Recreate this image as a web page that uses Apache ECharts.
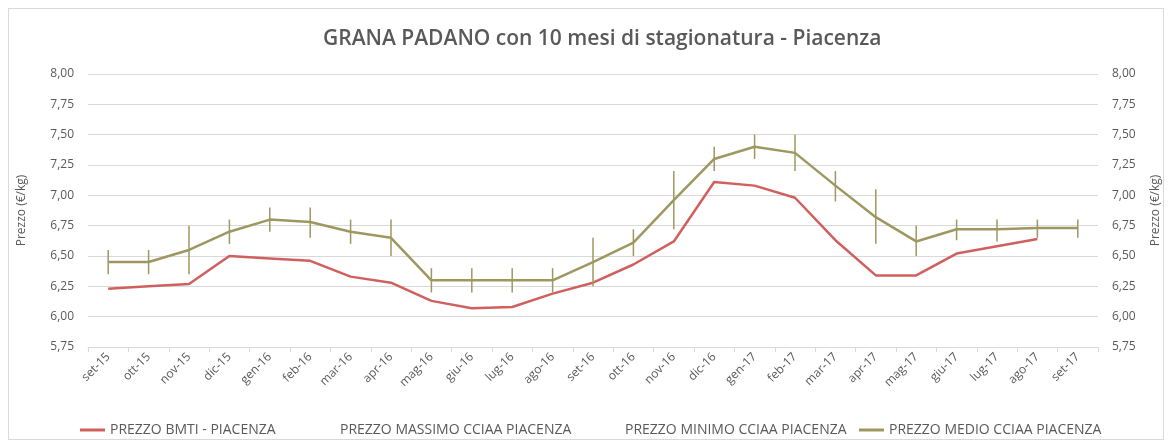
<!DOCTYPE html>
<html>
<head>
<meta charset="utf-8">
<script src="https://cdn.jsdelivr.net/npm/echarts@6/dist/echarts.min.js"></script>
<style>
html, body { margin: 0; padding: 0; background: #fff; }
#frame { position: absolute; left: 8px; top: 8px; width: 1156px; height: 432px; border: 1px solid #d9d9d9; box-sizing: border-box; }
#chart { position: absolute; left: 0; top: 0; width: 1172px; height: 445px; }
</style>
</head>
<body>
<div id="frame"></div>
<div id="chart"></div>
<script>
// mesi
const categories = ['set-15', 'ott-15', 'nov-15', 'dic-15', 'gen-16', 'feb-16', 'mar-16', 'apr-16',
    'mag-16', 'giu-16', 'lug-16', 'ago-16', 'set-16', 'ott-16', 'nov-16', 'dic-16', 'gen-17',
    'feb-17', 'mar-17', 'apr-17', 'mag-17', 'giu-17', 'lug-17', 'ago-17', 'set-17'];

// prezzi (€/kg)
const bmti = [6.23, 6.25, 6.27, 6.50, 6.48, 6.46, 6.33, 6.28, 6.13, 6.07, 6.08, 6.19, 6.28,
    6.43, 6.62, 7.11, 7.08, 6.98, 6.63, 6.34, 6.34, 6.52, 6.58, 6.64, null];
const massimo = [6.55, 6.55, 6.75, 6.80, 6.90, 6.90, 6.80, 6.80, 6.40, 6.40, 6.40, 6.40, 6.65,
    6.72, 7.20, 7.40, 7.50, 7.50, 7.20, 7.05, 6.75, 6.80, 6.80, 6.80, 6.80];
const minimo = [6.35, 6.35, 6.35, 6.60, 6.70, 6.65, 6.60, 6.50, 6.20, 6.20, 6.20, 6.20, 6.25,
    6.50, 6.72, 7.20, 7.30, 7.20, 6.95, 6.60, 6.50, 6.63, 6.62, 6.65, 6.65];
const medio = [6.45, 6.45, 6.55, 6.70, 6.80, 6.78, 6.70, 6.65, 6.30, 6.30, 6.30, 6.30, 6.45,
    6.61, 6.96, 7.30, 7.40, 7.35, 7.08, 6.82, 6.62, 6.72, 6.72, 6.73, 6.73];

const seriesNames = ['PREZZO BMTI - PIACENZA', 'PREZZO MASSIMO CCIAA PIACENZA',
    'PREZZO MINIMO CCIAA PIACENZA', 'PREZZO MEDIO CCIAA PIACENZA'];

const RED = '#d0605e';
const OLIVE = '#9e9860';
const TEXT = '#595959';
const GRID = '#d9d9d9';

function fmt(v) {
    return v.toFixed(2).replace('.', ',');
}

function valueAxis(position) {
    return {
        type: 'value',
        position: position,
        min: 5.75,
        max: 8,
        interval: 0.25,
        name: 'Prezzo (€/kg)',
        nameLocation: 'middle',
        nameGap: position === 'left' ? 60 : 52,
        nameRotate: 90,
        nameTextStyle: { color: TEXT, fontSize: 12, fontFamily: 'Open Sans' },
        axisLine: { show: false },
        axisTick: { show: false },
        axisLabel: { color: TEXT, fontSize: 12, fontFamily: 'Open Sans', margin: 14, formatter: fmt },
        splitLine: { show: position === 'left', lineStyle: { color: GRID, width: 1 } },
    };
}

function legendAt(name, left) {
    return {
        data: [{ name: name, icon: 'rect' }],
        left: left,
        top: 418,
        itemWidth: 25,
        itemHeight: 3,
        itemGap: 4,
        textStyle: { color: TEXT, fontSize: 14, fontFamily: 'Open Sans' },
    };
}

const hiLoData = categories.map((c, i) => [i, minimo[i], massimo[i]]);

const chart = echarts.init(document.getElementById('chart'));
chart.setOption({
    animation: false,
    title: {
        text: 'GRANA PADANO con 10 mesi di stagionatura - Piacenza',
        left: 318,
        top: 24,
        textStyle: { color: TEXT, fontSize: 21, fontWeight: 600, fontFamily: 'Open Sans' },
    },
    grid: { left: 88, right: 74, top: 74, bottom: 98 },
    legend: [
        legendAt(seriesNames[0], 75),
        legendAt(seriesNames[1], 305),
        legendAt(seriesNames[2], 590),
        legendAt(seriesNames[3], 854),
    ],
    xAxis: {
        type: 'category',
        data: categories,
        boundaryGap: true,
        axisLine: { lineStyle: { color: GRID } },
        axisTick: { show: true, length: 5, lineStyle: { color: GRID } },
        axisLabel: { color: TEXT, fontSize: 12, fontFamily: 'Open Sans', rotate: 45, margin: 8, interval: 0 },
    },
    yAxis: [valueAxis('left'), valueAxis('right')],
    series: [
        {
            name: seriesNames[0],
            type: 'line',
            yAxisIndex: 1,
            data: bmti,
            symbol: 'none',
            color: RED,
            lineStyle: { color: RED, width: 2.5 },
        },
        {
            name: seriesNames[1],
            type: 'line',
            data: massimo,
            symbol: 'none',
            color: 'rgba(0,0,0,0)',
            lineStyle: { width: 0, opacity: 0 },
        },
        {
            name: seriesNames[2],
            type: 'line',
            data: minimo,
            symbol: 'none',
            color: 'rgba(0,0,0,0)',
            lineStyle: { width: 0, opacity: 0 },
        },
        {
            name: seriesNames[3],
            type: 'line',
            data: medio,
            symbol: 'none',
            color: OLIVE,
            lineStyle: { color: OLIVE, width: 2.5 },
            z: 3,
        },
        {
            // linee max-min
            type: 'custom',
            data: hiLoData,
            z: 4,
            renderItem: function (params, api) {
                const lo = api.coord([api.value(0), api.value(1)]);
                const hi = api.coord([api.value(0), api.value(2)]);
                return {
                    type: 'line',
                    shape: { x1: lo[0], y1: lo[1], x2: hi[0], y2: hi[1] },
                    style: { stroke: OLIVE, lineWidth: 1.5 },
                };
            },
        },
    ],
});
</script>
</body>
</html>
